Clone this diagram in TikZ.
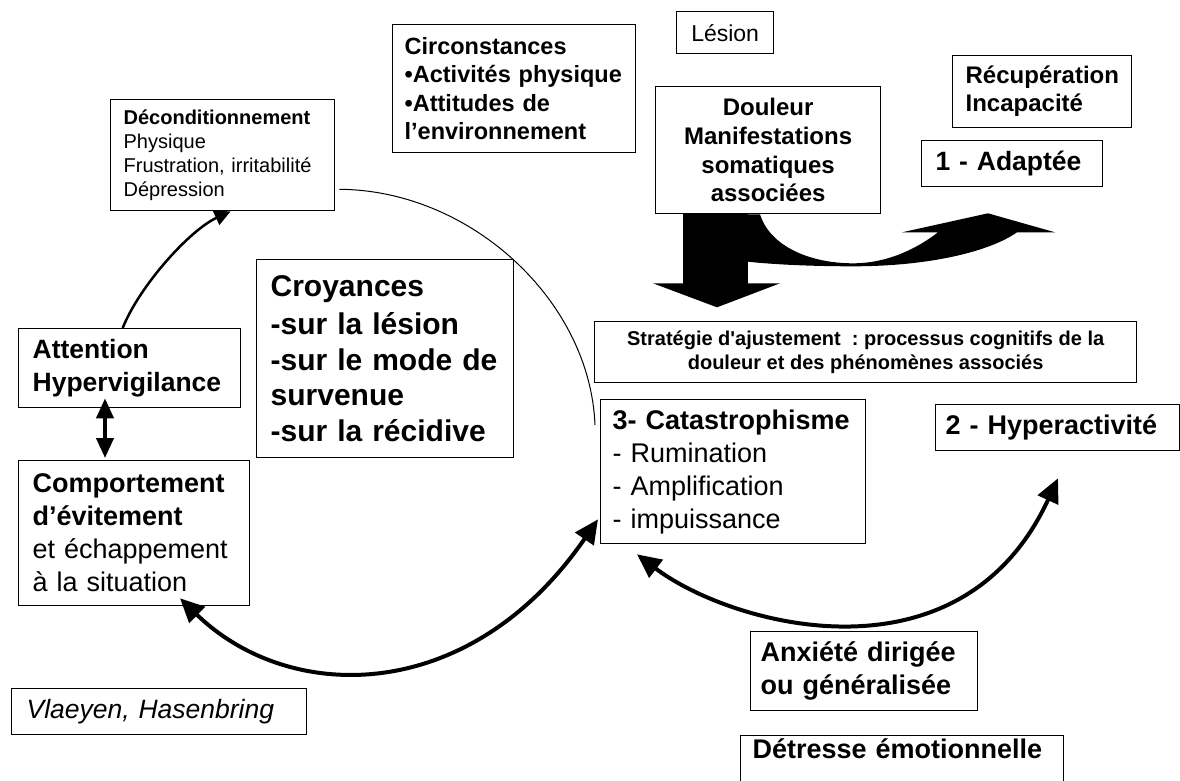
\documentclass[tikz,border=0pt]{standalone}
\usepackage{fontspec}
\setmainfont{Liberation Sans}
\usetikzlibrary{arrows.meta,calc}

\tikzset{
  box/.style={draw, line width=1.3pt, anchor=north west, inner ysep=0pt, align=left,
    execute at begin node={\hyphenpenalty=10000\exhyphenpenalty=10000}},
  cbox/.style={draw, line width=1.3pt, anchor=north west, inner sep=0pt, align=center,
    execute at begin node={\hyphenpenalty=10000\exhyphenpenalty=10000}},
  bigarc/.style={line width=4pt,
    {Triangle[length=24pt,width=22pt]}-{Triangle[length=24pt,width=22pt]}},
  midarrow/.style={line width=2.5pt, -{Triangle[length=16pt,width=15pt]}},
  dblarrow/.style={line width=4pt,
    {Triangle[length=20pt,width=17pt]}-{Triangle[length=20pt,width=17pt]}},
  thinarc/.style={line width=1pt}
}

\begin{document}
\begin{tikzpicture}[x=1pt,y=-1pt]
\useasboundingbox (0,0) rectangle (1180,780);
\fill[white] (0,0) rectangle (1180,780);
\clip (0,0) rectangle (1180,780);

% boxes
\node[box, minimum width=224, minimum height=111, inner xsep=13, text width=198,
      font=\fontsize{20}{24}\selectfont] (decond) at (110,99)
  {\textbf{Déconditionnement}\\Physique\\Frustration,~irritabilité\\Dépression};

\node[box, minimum width=243, minimum height=128, inner xsep=12, text width=219,
      font=\bfseries\fontsize{23.5}{28.5}\selectfont] (circ) at (392,24)
  {Circonstances\\•Activités~physique\\•Attitudes~de\\l’environnement};

\node[cbox, minimum width=97, minimum height=42,
      font=\fontsize{23}{28}\selectfont] (lesion) at (676,11) {Lésion};

\node[cbox, minimum width=225, minimum height=127,
      font=\bfseries\fontsize{24}{28.7}\selectfont] (douleur) at (655,86)
  {Douleur\\Manifestations\\somatiques\\associées};

\node[box, minimum width=179, minimum height=72, inner xsep=13, text width=153,
      font=\bfseries\fontsize{24}{28}\selectfont] (recup) at (952,55)
  {Récupération\\Incapacité};

\node[box, minimum width=181, minimum height=46, inner xsep=14, text width=153,
      font=\bfseries\fontsize{26.5}{32}\selectfont] (adapt) at (921,140)
  {1~-~Adaptée};

\node[box, minimum width=257, minimum height=198, inner xsep=14, text width=229,
      font=\bfseries\fontsize{30}{35.5}\selectfont] (croy) at (256,259)
  {Croyances\\[3pt]-sur~la~lésion\\-sur~le~mode~de\\survenue\\-sur~la~récidive};

\node[box, minimum width=222, minimum height=79, inner xsep=14, text width=194,
      font=\bfseries\fontsize{26.5}{33}\selectfont] (att) at (18,328)
  {Attention\\Hypervigilance};

\node[box, minimum width=231, minimum height=145, inner xsep=14, text width=203,
      font=\fontsize{27}{33}\selectfont] (comp) at (18,460)
  {\textbf{Comportement}\\\textbf{d’évitement}\\et~échappement\\à~la~situation};

\node[box, minimum width=295, minimum height=46, inner xsep=15, text width=265,
      font=\itshape\fontsize{26.5}{32}\selectfont] (vlaeyen) at (11,688)
  {Vlaeyen,~Hasenbring};

\node[cbox, minimum width=542, minimum height=61,
      font=\bfseries\fontsize{20}{23.5}\selectfont] (strat) at (594,321)
  {Stratégie d\textquotesingle ajustement~~:~processus cognitifs de la\\douleur et des phénomènes associés};

\node[box, minimum width=265, minimum height=144, inner xsep=12, text width=241,
      font=\fontsize{27}{33}\selectfont] (cat) at (600,399)
  {\textbf{3-~Catastrophisme}\\-~Rumination\\-~Amplification\\-~impuissance};

\node[box, minimum width=244, minimum height=46, inner xsep=10, text width=224,
      font=\bfseries\fontsize{27}{32}\selectfont] (hyper) at (935,404)
  {2~-~Hyperactivité};

\node[box, minimum width=227, minimum height=79, inner xsep=10, text width=207,
      font=\bfseries\fontsize{27}{33}\selectfont] (anx) at (750,631)
  {Anxiété~dirigée\\ou~généralisée};

\node[box, inner xsep=12, text width=299, text height=23, text depth=45,
      font=\bfseries\fontsize{27}{32}\selectfont] (det) at (740,735)
  {Détresse~émotionnelle};

% block arrow leaving the pain box: straight down and curved towards "Adaptée"
\begin{scope}[shift={(douleur.south west)}]
  \fill (28,0) rectangle (93,70);
  \fill (-2,69) -- (125,69) -- (62,93) -- cycle;
  \fill (90,0) -- (105,0) .. controls (115,32) and (155,49) .. (198,49)
        .. controls (235,49) and (265,32) .. (283,18) -- (247,18) -- (333,-1)
        -- (400,18) -- (362,18) .. controls (335,37) and (275,52) .. (198,52)
        .. controls (145,52) and (105,49) .. (90,47) -- cycle;
\end{scope}

% connectors
\draw[midarrow] ($(att.north)+(-7,0)$) .. controls (140,285) and (190,230)
  .. ($(decond.south)+(8,0)$);
\draw[dblarrow] ($(att.south west)+(87,-10)$) -- ($(comp.north west)+(87,-2)$);
\draw[thinarc] ($(decond.south east)+(4,-22)$) .. controls (470,190) and (590,300)
  .. ($(cat.north west)+(-5,26)$);
\draw[bigarc] ($(comp.south west)+(162,-8)$) .. controls (290,705) and (470,705)
  .. ($(cat.south west)+(-2,-25)$);
\draw[bigarc] ($(cat.south west)+(37,10)$) .. controls (730,625) and (960,690)
  .. ($(hyper.south west)+(123,27)$);
\end{tikzpicture}
\end{document}
